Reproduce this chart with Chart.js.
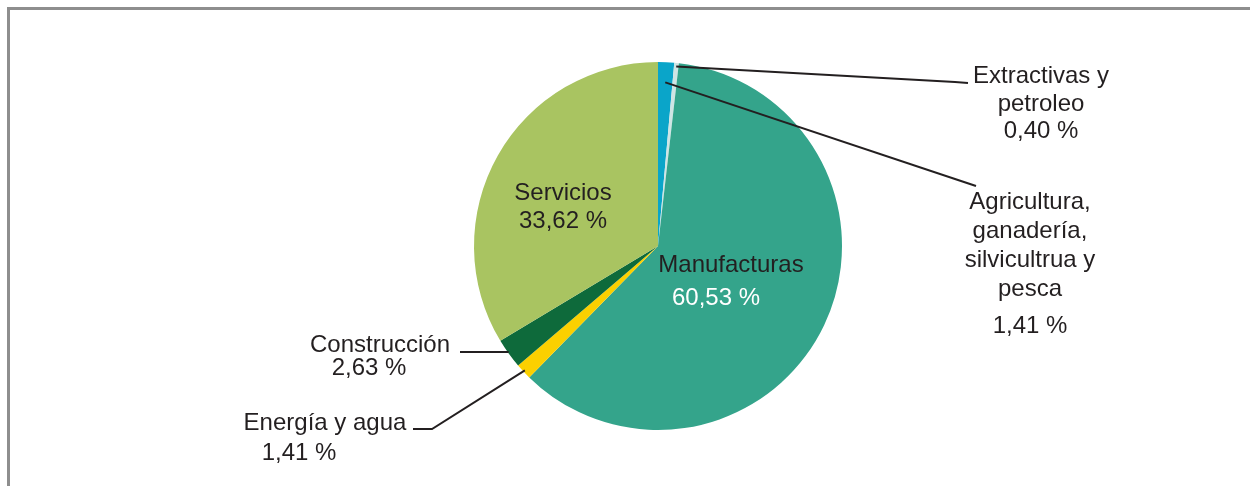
<!DOCTYPE html>
<html>
  <head>
    <title>Producción por sector</title>
    <meta charset="UTF-8" />
    <style>
      html, body { margin: 0; padding: 0; background: #fff; }
      #marco {
        position: absolute; left: 7px; top: 7px; width: 1243px; height: 479px;
        border-top: 3px solid #8e8e8e; border-left: 3px solid #8e8e8e;
        box-sizing: border-box;
      }
      #grafico { position: absolute; left: 0; top: 0; }
    </style>
  </head>

  <body>
    <div id="marco"></div>
    <canvas id="grafico" width="1250" height="486"></canvas>

<script src="https://cdn.jsdelivr.net/npm/chart.js@4"></script>
<script>
// sectores, en el orden del pastel (desde arriba, sentido horario)
var sectores = ['Agricultura, ganadería, silvicultrua y pesca', 'Extractivas y petroleo', 'Manufacturas',
                'Energía y agua', 'Construcción', 'Servicios'];
var porcentajes = [1.41, 0.40, 60.53, 1.41, 2.63, 33.62];
var colores = ['#0aa5c9', '#cfe5e4', '#34a48b', '#fbd000', '#0e6a3b', '#a9c461'];

// texto de cada etiqueta, renglón por renglón (el porcentaje se agrega al final)
var renglones = [
  ['Agricultura,', 'ganadería,', 'silvicultrua y', 'pesca'],
  ['Extractivas y', 'petroleo'],
  ['Manufacturas'],
  ['Energía y agua'],
  ['Construcción'],
  ['Servicios']
];

function fmt(v) {
  return v.toFixed(2).replace('.', ',') + ' %';
}

// posición de las etiquetas: x centro y líneas base; guías desde el sector
var disposicion = [
  { x: 1030, base: [209, 238, 267, 296, 333], r: 0.89, guia: [[976, 186]] },
  { x: 1041, base: [83, 111, 138], r: 0.98, guia: [[955, 82], [968, 83]] },
  { x: [731, 716], base: [272, 305], color: ['#231f20', '#ffffff'] },
  { x: [325, 299], base: [430, 460], r: 0.99, guia: [[432, 429], [413, 429]] },
  { x: [380, 369], base: [352, 375], r: 1.0, guia: [[460, 352]], horizontal: true },
  { x: 563, base: [200, 228] }
];

var etiquetas = {
  id: 'etiquetas',
  afterDraw: function(chart) {
    var ctx = chart.ctx;
    var meta = chart.getDatasetMeta(0);
    ctx.save();
    ctx.strokeStyle = '#231f20';
    ctx.lineWidth = 2;
    meta.data.forEach(function(arc, i) {
      var d = disposicion[i];
      if (!d.guia) return;
      var p = arc.getProps(['x', 'y', 'startAngle', 'endAngle', 'outerRadius'], true);
      var a = (p.startAngle + p.endAngle) / 2;
      var x0 = p.x + Math.cos(a) * p.outerRadius * d.r;
      var y0 = p.y + Math.sin(a) * p.outerRadius * d.r;
      ctx.beginPath();
      if (d.horizontal) {
        ctx.moveTo(x0, d.guia[0][1]);
      } else {
        ctx.moveTo(x0, y0);
      }
      d.guia.forEach(function(pt) { ctx.lineTo(pt[0], pt[1]); });
      ctx.stroke();
    });

    ctx.font = '24px "Liberation Sans", Arial, sans-serif';
    ctx.textAlign = 'center';
    ctx.textBaseline = 'alphabetic';
    renglones.forEach(function(lineas, i) {
      var d = disposicion[i];
      var textos = lineas.concat([fmt(porcentajes[i])]);
      textos.forEach(function(t, k) {
        var x = Array.isArray(d.x) ? d.x[k] : d.x;
        ctx.fillStyle = d.color ? d.color[k] : '#231f20';
        ctx.fillText(t, x, d.base[k]);
      });
    });
    ctx.restore();
  }
};

var data_sectores = {
  labels: sectores,
  datasets: [{
    data: porcentajes,
    backgroundColor: colores,
    borderWidth: 0
  }]
};

var config_sectores = {
  type: 'pie',
  data: data_sectores,
  plugins: [etiquetas],
  options: {
    responsive: false,
    animation: false,
    layout: { padding: { left: 474, right: 408, top: 62, bottom: 56 } },
    plugins: {
      legend: { display: false },
      tooltip: { enabled: false }
    }
  }
};

var miGrafico = new Chart(document.getElementById('grafico'), config_sectores);
</script>
</body>
</html>
